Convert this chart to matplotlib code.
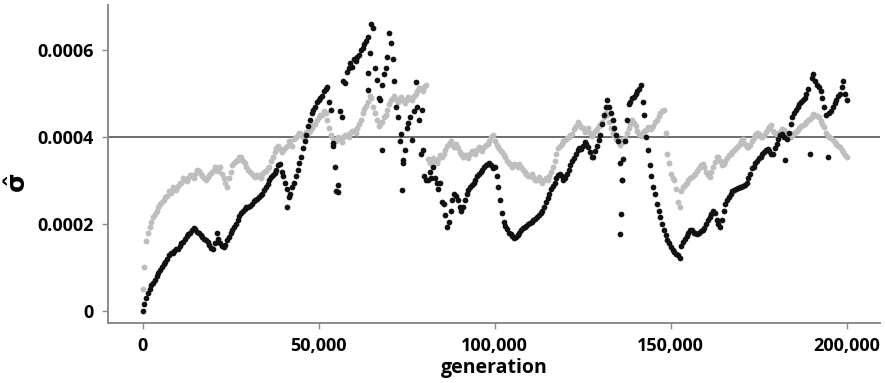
"""
sigma-hat over generations: two replicate runs (black / grey)
"""
import numpy as np
import matplotlib
matplotlib.use("Agg")
import matplotlib.pyplot as plt

################################################################################
#
# data: sigma-hat (x 1e-4), sampled every 1,000 generations plus the
# in-between samples at +500
#
generation = np.arange(0, 201) * 1000
generation_mid = np.arange(0, 200) * 1000 + 500

sigma_black = [
    0.00, 0.30, 0.50, 0.65, 0.80, 0.93, 1.07, 1.20, 1.32, 1.38,
    1.43, 1.55, 1.66, 1.76, 1.85, 1.88, 1.78, 1.70, 1.62, 1.52,
    1.42, 1.80, 1.55, 1.48, 1.62, 1.78, 1.92, 2.10, 2.25, 2.35,
    2.40, 2.46, 2.55, 2.62, 2.70, 2.85, 3.00, 3.12, 3.25, 3.38,
    3.10, 2.80, 2.70, 2.95, 3.25, 3.55, 3.90, 4.25, 4.55, 4.70,
    4.85, 4.95, 5.10, 4.80, 3.80, 2.75, 4.60, 5.30, 5.50, 5.70,
    5.80, 5.85, 6.00, 6.15, 6.30, 6.60, 5.60, 4.90, 5.20, 5.60,
    6.40, 5.80, 4.70, 3.90, 3.40, 4.20, 4.45, 4.60, 4.70, 3.60,
    3.10, 3.00, 3.05, 3.05, 2.80, 2.50, 2.20, 2.05, 2.55, 2.65,
    2.40, 2.40, 2.70, 2.85, 2.95, 3.10, 3.20, 3.30, 3.38, 3.35,
    3.30, 2.85, 2.25, 1.95, 1.80, 1.72, 1.70, 1.80, 1.90, 1.95,
    2.02, 2.08, 2.15, 2.25, 2.40, 2.60, 2.80, 2.95, 3.12, 3.10,
    3.05, 3.25, 3.45, 3.60, 3.75, 3.80, 3.85, 3.65, 3.55, 3.80,
    4.05, 4.50, 4.85, 4.55, 4.20, 3.90, 3.00, 3.90, 4.75, 4.90,
    5.00, 5.10, 4.80, 4.00, 3.35, 2.85, 2.45, 2.15, 1.85, 1.62,
    1.48, 1.35, 1.28, 1.50, 1.65, 1.80, 1.85, 1.78, 1.80, 1.85,
    2.00, 2.15, 2.30, 2.10, 1.92, 2.30, 2.55, 2.70, 2.78, 2.82,
    2.85, 2.90, 3.05, 3.28, 3.40, 3.52, 3.60, 3.70, 3.68, 3.62,
    3.85, 4.05, 4.00, 3.95, 4.30, 4.55, 4.70, 4.80, 4.90, 5.10,
    5.35, 5.30, 5.15, 4.90, 4.50, 4.55, 4.70, 4.85, 5.00, 5.30,
    4.85,
]

sigma_black_mid = [
    0.15, 0.42, 0.60, 0.70, 0.88, 1.00, 1.12, 1.28, 1.34, 1.42,
    1.50, 1.58, 1.72, 1.80, 1.90, 1.82, 1.75, 1.65, 1.58, 1.45,
    1.55, 1.65, 1.50, 1.52, 1.70, 1.85, 2.00, 2.18, 2.30, 2.38,
    2.42, 2.52, 2.58, 2.66, 2.78, 2.92, 3.08, 3.18, 3.35, 3.20,
    2.95, 2.62, 2.85, 3.10, 3.40, 3.75, 4.05, 4.40, 4.62, 4.80,
    4.90, 5.05, 5.15, 4.62, 3.30, 2.90, 4.46, 5.24, 5.60, 5.62,
    5.75, 5.90, 6.05, 6.20, 5.93, 6.50, 5.32, 4.85, 5.45, 5.85,
    6.17, 5.30, 4.46, 4.08, 3.70, 4.32, 3.93, 5.27, 4.40, 3.70,
    3.01, 3.20, 3.31, 2.95, 2.94, 2.47, 1.93, 2.30, 2.70, 2.55,
    2.30, 2.55, 2.78, 2.90, 3.02, 3.15, 3.25, 3.35, 3.40, 3.28,
    3.10, 2.55, 2.05, 1.88, 1.76, 1.68, 1.75, 1.85, 1.92, 2.00,
    2.05, 2.12, 2.20, 2.30, 2.50, 2.70, 2.88, 3.05, 3.16, 3.02,
    3.15, 3.35, 3.52, 3.70, 3.72, 3.88, 3.78, 3.53, 3.68, 3.93,
    4.30, 4.70, 4.70, 4.40, 4.05, 3.40, 3.50, 4.40, 4.80, 4.93,
    5.05, 5.20, 4.50, 3.70, 3.10, 2.70, 2.30, 2.00, 1.75, 1.55,
    1.40, 1.31, 1.22, 1.58, 1.72, 1.85, 1.80, 1.77, 1.84, 1.90,
    2.08, 2.22, 2.25, 2.00, 2.10, 2.45, 2.62, 2.75, 2.80, 2.84,
    2.88, 2.95, 3.15, 3.32, 3.45, 3.55, 3.65, 3.72, 3.62, 3.75,
    3.95, 4.08, 3.48, 4.10, 4.45, 4.62, 4.75, 4.85, 5.00, 3.62,
    5.45, 5.20, 5.05, 4.70, 3.55, 4.60, 4.78, 4.95, 5.15, 5.00,
]

sigma_grey = [
    0.50, 1.60, 1.92, 2.15, 2.30, 2.45, 2.55, 2.65, 2.72, 2.80,
    2.88, 2.95, 3.02, 3.05, 3.10, 3.15, 3.22, 3.10, 3.00, 3.12,
    3.22, 3.28, 3.30, 3.05, 2.85, 3.20, 3.40, 3.48, 3.53, 3.40,
    3.25, 3.15, 3.08, 3.10, 3.16, 3.22, 3.30, 3.55, 3.75, 3.72,
    3.70, 3.80, 3.85, 3.95, 4.05, 4.08, 4.05, 4.10, 4.20, 4.30,
    4.45, 4.50, 4.55, 4.20, 3.95, 3.92, 3.95, 4.00, 4.05, 4.10,
    4.15, 4.20, 4.40, 4.65, 4.80, 4.90, 4.55, 4.25, 4.35, 4.50,
    4.75, 4.90, 4.88, 4.85, 4.85, 4.85, 4.90, 4.95, 5.05, 5.10,
    5.15, 3.50, 3.45, 3.46, 3.50, 3.55, 3.70, 3.85, 3.85, 3.85,
    3.65, 3.53, 3.58, 3.62, 3.68, 3.70, 3.72, 3.76, 3.85, 4.00,
    3.90, 3.77, 3.65, 3.53, 3.40, 3.30, 3.35, 3.39, 3.25, 3.16,
    3.10, 3.07, 3.02, 3.00, 3.00, 3.00, 3.20, 3.45, 3.75, 3.85,
    3.93, 4.00, 4.08, 4.25, 4.30, 4.20, 4.16, 4.10, 4.08, 4.18,
    4.28, 4.45, 4.50, 4.20, 4.05, 3.90, 3.88, 3.98, 4.20, 4.39,
    4.25, 4.08, 4.10, 4.16, 4.20, 4.25, 4.40, 4.55, 4.62, 3.60,
    3.16, 3.00, 2.50, 2.75, 2.90, 3.00, 3.08, 3.16, 3.28, 3.39,
    3.20, 3.07, 3.30, 3.53, 3.45, 3.39, 3.52, 3.62, 3.70, 3.80,
    3.90, 3.85, 3.77, 3.90, 4.05, 4.06, 4.00, 4.12, 4.23, 4.15,
    4.08, 4.12, 4.16, 4.08, 4.00, 4.10, 4.16, 4.25, 4.31, 4.40,
    4.46, 4.50, 4.45, 4.30, 4.10, 4.00, 3.93, 3.85, 3.77, 3.65,
    3.53,
]

sigma_grey_mid = [
    1.00, 1.78, 2.05, 2.22, 2.38, 2.50, 2.62, 2.75, 2.85, 2.78,
    2.95, 3.05, 2.98, 3.12, 3.05, 3.25, 3.15, 3.05, 3.08, 3.18,
    3.30, 3.22, 3.15, 2.95, 3.05, 3.35, 3.45, 3.55, 3.45, 3.32,
    3.20, 3.10, 3.12, 3.05, 3.20, 3.28, 3.45, 3.65, 3.80, 3.65,
    3.75, 3.90, 3.80, 4.00, 4.10, 4.00, 4.12, 4.15, 4.28, 4.40,
    4.50, 4.60, 4.40, 4.05, 3.90, 4.00, 3.88, 4.05, 4.00, 4.15,
    4.10, 4.30, 4.55, 4.72, 4.95, 4.70, 4.40, 4.30, 4.45, 4.62,
    4.85, 4.95, 4.80, 4.92, 4.78, 4.92, 4.85, 5.00, 5.12, 5.05,
    5.20, 3.40, 3.52, 3.40, 3.58, 3.62, 3.80, 3.92, 3.78, 3.75,
    3.60, 3.58, 3.52, 3.68, 3.62, 3.78, 3.68, 3.82, 3.92, 4.05,
    3.82, 3.70, 3.58, 3.45, 3.35, 3.38, 3.30, 3.32, 3.20, 3.10,
    3.15, 3.00, 3.08, 2.95, 3.05, 3.10, 3.30, 3.60, 3.80, 3.92,
    3.98, 4.05, 4.18, 4.35, 4.22, 4.12, 4.20, 4.02, 4.15, 4.25,
    4.35, 4.55, 4.35, 4.10, 3.95, 3.82, 3.95, 4.10, 4.30, 4.32,
    4.15, 4.02, 4.15, 4.22, 4.18, 4.35, 4.48, 4.60, 4.10, 3.40,
    3.05, 2.80, 2.40, 2.85, 2.95, 3.05, 3.12, 3.22, 3.35, 3.30,
    3.12, 3.20, 3.42, 3.55, 3.35, 3.45, 3.58, 3.65, 3.75, 3.85,
    3.95, 3.78, 3.82, 3.98, 4.10, 4.00, 4.05, 4.18, 4.28, 4.10,
    4.05, 4.18, 4.12, 4.02, 4.05, 4.12, 4.20, 4.28, 4.35, 4.42,
    4.52, 4.48, 4.38, 4.22, 4.02, 3.98, 3.88, 3.80, 3.70, 3.58,
]

# stray black points away from the main trace
stray_gen = [41000, 54200, 55600, 64000, 64000, 67900, 73600, 74000,
             79200, 135600, 135800, 136200]
stray_black = [2.38, 3.86, 2.74, 5.08, 5.47, 3.70, 2.78, 3.47,
               4.62, 1.77, 2.24, 3.00]

yticks = [0, 0.0002, 0.0004, 0.0006]
ytick_labels = ['0', '0.0002', '0.0004', '0.0006']
xticks = [0, 50000, 100000, 150000, 200000]
xtick_labels = ['0', '50,000', '100,000', '150,000', '200,000']

################################################################################
#
# plot
#
plt.rcParams['font.family'] = ['Open Sans', 'DejaVu Sans']
plt.rcParams['font.weight'] = 'bold'
plt.rcParams['mathtext.fontset'] = 'custom'
plt.rcParams['mathtext.it'] = 'DejaVu Sans:bold'
plt.rcParams['mathtext.rm'] = 'DejaVu Sans:bold'

fig = plt.figure(figsize=(8.85, 3.83), dpi=100)
ax = fig.add_axes([0.1217, 0.1567, 0.8727, 0.8303])

ax.axhline(0.0004, color='#555555', lw=1.2, zorder=1)

grey_x = np.concatenate([generation, generation_mid])
grey_y = np.concatenate([sigma_grey, sigma_grey_mid]) * 1e-4
black_x = np.concatenate([generation, generation_mid, stray_gen])
black_y = np.concatenate([sigma_black, sigma_black_mid, stray_black]) * 1e-4

ax.scatter(grey_x, grey_y, s=18, c='#bebebe', linewidths=0, zorder=2)
ax.scatter(black_x, black_y, s=17, c='#111111', linewidths=0, zorder=3)

ax.set_xlim(-9900, 209400)
ax.set_ylim(-0.000028, 0.000704)

ax.set_xticks(xticks)
ax.set_xticklabels(xtick_labels)
ax.set_yticks(yticks)
ax.set_yticklabels(ytick_labels)

for side in ['top', 'right']:
    ax.spines[side].set_visible(False)
for side in ['left', 'bottom']:
    ax.spines[side].set_color('#8a8a8a')
    ax.spines[side].set_linewidth(1.4)

ax.tick_params(axis='both', colors='#8a8a8a', length=4, width=1,
               labelsize=13, labelcolor='black', pad=6)

ax.set_xlabel('generation', fontsize=14, fontweight='bold', labelpad=2)
ax.set_ylabel(r'$\hat{\sigma}$', fontsize=18)
ax.yaxis.set_label_coords(-0.098, 0.44)

fig.savefig('out.png', dpi=100)
